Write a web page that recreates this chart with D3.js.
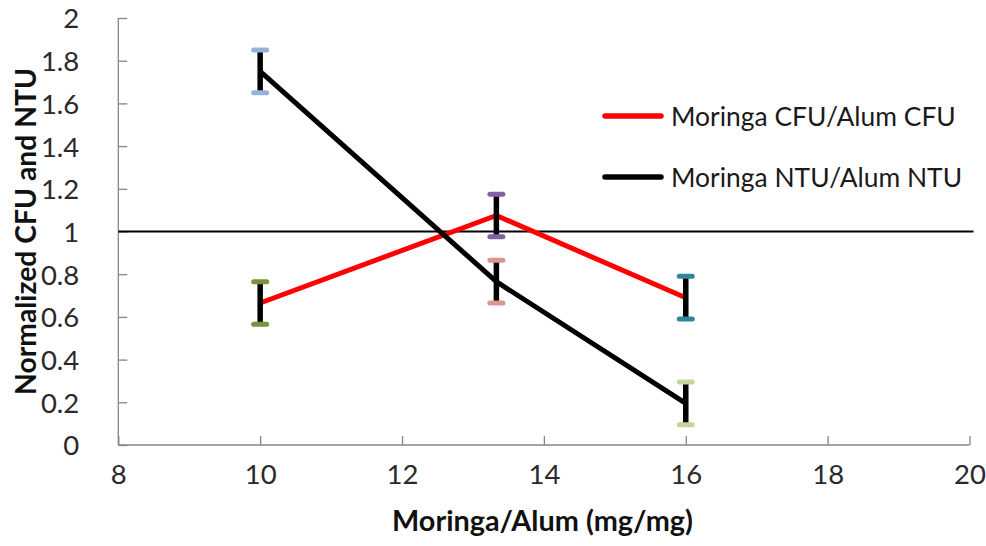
<!DOCTYPE html>
<html>
<head>
<meta charset="utf-8">
<script src="https://cdn.jsdelivr.net/npm/d3@7/dist/d3.min.js"></script>
<style>
  html, body { margin: 0; padding: 0; background: #fff; }
  svg { display: block; }
  text { font-family: Lato, "Open Sans", "Liberation Sans", sans-serif; }
</style>
</head>
<body>
<svg id="chart" width="986" height="546"></svg>
<script>
// ---- data ----
const doses = [10, 13.33, 16];
const cfuRatio = [0.665, 1.075, 0.69];
const cfuErr = [0.1, 0.1, 0.1];
const ntuRatio = [1.75, 0.765, 0.195];
const ntuErr = [0.1, 0.1, 0.1];
const cfuCapColors = ["#77933C", "#8064A2", "#31859C"];
const ntuCapColors = ["#95B3D7", "#D99694", "#C3D69B"];
const xTicks = [8, 10, 12, 14, 16, 18, 20];
const yTicks = [0, 0.2, 0.4, 0.6, 0.8, 1, 1.2, 1.4, 1.6, 1.8, 2];
const refLevel = 1;
const seriesNames = ["Moringa CFU/Alum CFU", "Moringa NTU/Alum NTU"];
const seriesColors = ["#FF0000", "#000000"];
const xTitle = "Moringa/Alum (mg/mg)";
const yTitle = "Normalized CFU and NTU";

// ---- layout ----
const svg = d3.select("#chart");
const x = d3.scaleLinear().domain([8, 20]).range([118.3, 969.5]);
const y = d3.scaleLinear().domain([0, 2]).range([445, 18]);
const axisColor = "#868686";
const tickSize = 27.5;

// fit helper: scale font-size so text reaches target width
function fit(sel, target) {
  const base = parseFloat(sel.attr("font-size"));
  const w = sel.node().getComputedTextLength();
  const s = base * target / w;
  sel.attr("font-size", s);
  return s;
}

// legend measure first to get regular size
const probe = svg.append("text").attr("font-size", 30).text(seriesNames[0]);
const regSize = fit(probe, 285);
probe.remove();

// y axis
const yAxis = svg.append("g").attr("transform", `translate(${x(8)},0)`)
  .call(d3.axisLeft(y).tickValues(yTicks).tickSize(-9).tickPadding(39)
    .tickFormat(d3.format("~g")));
yAxis.select(".domain").attr("stroke", axisColor).attr("stroke-width", 1.3)
  .attr("d", `M0,${y(2)}H0V${y(0)}`);
yAxis.selectAll(".tick line").attr("stroke", axisColor).attr("stroke-width", 1.3);
yAxis.selectAll(".tick text").attr("font-size", tickSize).attr("fill", "#2a2a2a")
  .attr("font-family", "Lato, sans-serif").attr("dy", "0.36em");

// x axis
const xAxis = svg.append("g").attr("transform", `translate(0,${y(0)})`)
  .call(d3.axisBottom(x).tickValues(xTicks).tickSize(-9).tickPadding(29)
    .tickFormat(d3.format("d")));
xAxis.select(".domain").attr("stroke", axisColor).attr("stroke-width", 1.3)
  .attr("d", `M${x(8)},0H${x(20)}`);
xAxis.selectAll(".tick line").attr("stroke", axisColor).attr("stroke-width", 1.3);
xAxis.selectAll(".tick text").attr("font-size", tickSize).attr("fill", "#2a2a2a")
  .attr("font-family", "Lato, sans-serif").attr("dy", "0.36em");

// reference line at 1
svg.append("line")
  .attr("x1", x(8)).attr("x2", x(20) + 4)
  .attr("y1", y(refLevel)).attr("y2", y(refLevel))
  .attr("stroke", "#000").attr("stroke-width", 2.2);

// series lines
const line = d3.line().x(d => x(d[0])).y(d => y(d[1]));
const series = [
  { vals: cfuRatio, err: cfuErr, caps: cfuCapColors, color: seriesColors[0] },
  { vals: ntuRatio, err: ntuErr, caps: ntuCapColors, color: seriesColors[1] }
];
series.forEach(s => {
  svg.append("path")
    .attr("d", line(doses.map((d, i) => [d, s.vals[i]])))
    .attr("fill", "none").attr("stroke", s.color).attr("stroke-width", 5)
    .attr("stroke-linejoin", "round");
});

// error bars
series.forEach(s => {
  const g = svg.append("g");
  doses.forEach((d, i) => {
    const hi = s.vals[i] + s.err[i], lo = s.vals[i] - s.err[i];
    g.append("line").attr("x1", x(d)).attr("x2", x(d))
      .attr("y1", y(hi)).attr("y2", y(lo))
      .attr("stroke", "#000").attr("stroke-width", 5.5);
    [hi, lo].forEach(v => {
      g.append("line").attr("x1", x(d) - 6.5).attr("x2", x(d) + 6.5)
        .attr("y1", y(v)).attr("y2", y(v))
        .attr("stroke", s.caps[i]).attr("stroke-width", 5)
        .attr("stroke-linecap", "round");
    });
  });
});

// legend
const legY = [116, 177];
seriesNames.forEach((name, i) => {
  svg.append("line").attr("x1", 605).attr("x2", 661)
    .attr("y1", legY[i]).attr("y2", legY[i])
    .attr("stroke", seriesColors[i]).attr("stroke-width", 5.5)
    .attr("stroke-linecap", "round");
  svg.append("text").attr("x", 671).attr("y", legY[i])
    .attr("dy", "0.36em").attr("font-size", regSize).attr("fill", "#1a1a1a")
    .text(name);
});

// axis titles
const xt = svg.append("text").attr("x", 542.5).attr("y", 531)
  .attr("text-anchor", "middle").attr("font-weight", "bold")
  .attr("font-size", 30).attr("fill", "#111").text(xTitle);
fit(xt, 301);

const yt = svg.append("text").attr("transform", "translate(36,231.5) rotate(-90)")
  .attr("text-anchor", "middle").attr("font-weight", "bold")
  .attr("font-size", 30).attr("fill", "#111").text(yTitle);
fit(yt, 327);
</script>
</body>
</html>
